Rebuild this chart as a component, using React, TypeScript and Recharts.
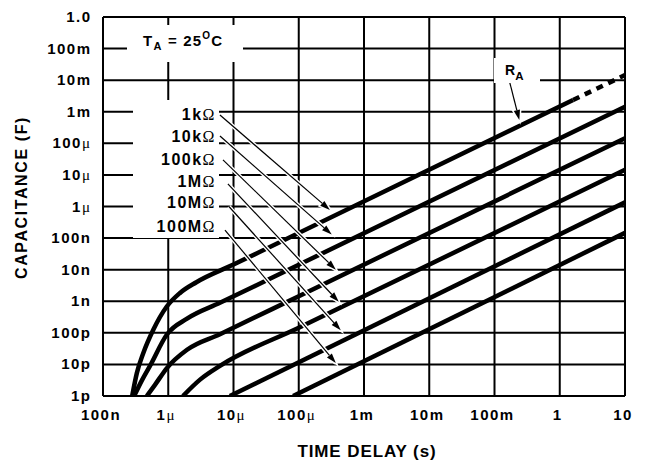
import React from 'react';
import { LineChart, Line, XAxis, YAxis, CartesianGrid, ReferenceLine } from 'recharts';

// axis ticks (log decades)
const xTicks = [1e-7, 1e-6, 1e-5, 1e-4, 1e-3, 1e-2, 1e-1, 1, 10];
const xTickLabels = ['100n', '1\u03bc', '10\u03bc', '100\u03bc', '1m', '10m', '100m', '1', '10'];
const yTicks = [1e-12, 1e-11, 1e-10, 1e-9, 1e-8, 1e-7, 1e-6, 1e-5, 1e-4, 1e-3, 1e-2, 1e-1, 1];
const yTickLabels = ['1p', '10p', '100p', '1n', '10n', '100n', '1\u03bc', '10\u03bc', '100\u03bc', '1m', '10m', '100m', '1.0'];

// time delay (s) / capacitance (F)
const t1k = [2.8e-7, 3.3e-7, 4.15e-7, 5.9e-7, 9.5e-7, 1.5e-6, 2.7e-6, 1e-5, 1.6];
const c1k = [1e-12, 5.3e-12, 2.3e-11, 1.25e-10, 6.8e-10, 1.8e-9, 4.0e-9, 1.45e-8, 2.35e-3];
const t1kDash = [1.6, 10];
const c1kDash = [2.35e-3, 1.45e-2];

const t10k = [3.0e-7, 4.0e-7, 5.25e-7, 9.6e-7, 1.94e-6, 6.2e-6, 1e-4, 10];
const c10k = [1e-12, 3.3e-12, 9.0e-12, 9.0e-11, 2.8e-10, 8.9e-10, 1.43e-8, 1.43e-3];

const t100k = [4.7e-7, 6.3e-7, 9.6e-7, 1.94e-6, 6.2e-6, 1e-4, 10];
const c100k = [1e-12, 2.3e-12, 7.8e-12, 2.9e-11, 9.0e-11, 1.45e-9, 1.45e-4];

const t1M = [1.68e-6, 3.07e-6, 6.2e-6, 1e-4, 10];
const c1M = [1e-12, 3.3e-12, 9.0e-12, 1.45e-10, 1.45e-5];

const t10M = [8.8e-6, 10];
const c10M = [1e-12, 1.35e-6];

const t100M = [8.2e-5, 10];
const c100M = [1e-12, 1.46e-7];

const resistorNames = ['1k', '10k', '100k', '1M', '10M', '100M'];

// arrows from the resistor labels to their curves
const arrowT0 = [6.2e-6, 6.2e-6, 6.9e-6, 8.2e-6, 8.5e-6, 7.4e-6];
const arrowC0 = [7.9e-4, 1.7e-4, 3.0e-5, 5.2e-6, 1.0e-6, 1.8e-7];
const arrowT1 = [3.0e-4, 3.2e-4, 3.7e-4, 4.1e-4, 4.4e-4, 3.7e-4];
const arrowC1 = [7.8e-7, 1.3e-7, 1.0e-8, 9.6e-10, 1.2e-10, 1.1e-11];
const raArrowT = [0.17, 0.24];
const raArrowC = [9.0e-3, 5.5e-4];

const toData = (ts: number[], cs: number[]) => ts.map((t, i) => ({ t, c: cs[i] }));

const lookup = (v: number, ticks: number[], labels: string[]) => {
  const i = ticks.findIndex((k) => Math.abs(Math.log10(k) - Math.log10(v)) < 0.01);
  return i >= 0 ? labels[i] : '';
};

const FONT = '"Liberation Sans", Arial, sans-serif';
const SYM = '"Liberation Serif", "Times New Roman", serif';

const withSymbols = (s: string) =>
  s.split(/([\u03bc\u03a9])/).map((p, i) =>
    p === '\u03bc' || p === '\u03a9' ? (
      <tspan key={i} fontFamily={SYM} fontWeight="normal">{p}</tspan>
    ) : (
      <tspan key={i}>{p}</tspan>
    )
  );

const XTick = (p: any) => (
  <text x={p.x - 2} y={p.y + 24} textAnchor="middle" fontFamily={FONT} fontWeight="bold"
    fontSize={15} letterSpacing={1.5} fill="#000">
    {withSymbols(lookup(p.payload.value, xTicks, xTickLabels))}
  </text>
);

const YTick = (p: any) => (
  <text x={p.x - 11.5} y={p.y + 5} textAnchor="end" fontFamily={FONT} fontWeight="bold"
    fontSize={15} letterSpacing={1.5} fill="#000">
    {withSymbols(lookup(p.payload.value, yTicks, yTickLabels))}
  </text>
);

const Arrow = (props: any) => {
  const { x1, y1, x2, y2 } = props;
  const a = Math.atan2(y2 - y1, x2 - x1);
  const len = 10;
  const half = 3.2;
  const bx = x2 - len * Math.cos(a);
  const by = y2 - len * Math.sin(a);
  const px = -Math.sin(a) * half;
  const py = Math.cos(a) * half;
  const pts = `${x2},${y2} ${bx + px},${by + py} ${bx - px},${by - py}`;
  return (
    <g>
      <line x1={x1} y1={y1} x2={x2} y2={y2} stroke="#fff" strokeWidth={4} />
      <polygon points={pts} fill="#fff" stroke="#fff" strokeWidth={3} />
      <line x1={x1} y1={y1} x2={bx} y2={by} stroke="#000" strokeWidth={1.2} />
      <polygon points={pts} fill="#000" />
    </g>
  );
};

const curves = [
  { data: toData(t1k, c1k), dash: undefined },
  { data: toData(t1kDash, c1kDash), dash: '7 6' },
  { data: toData(t10k, c10k), dash: undefined },
  { data: toData(t100k, c100k), dash: undefined },
  { data: toData(t1M, c1M), dash: undefined },
  { data: toData(t10M, c10M), dash: undefined },
  { data: toData(t100M, c100M), dash: undefined },
];

const labelBaselines = [120, 141.7, 165, 186.7, 208.3, 231.7];

export default function App() {
  return (
    <div style={{ position: 'absolute', left: 0, top: 0, width: 645, height: 463, background: '#fff' }}>
      <LineChart width={645} height={463} margin={{ top: 17, right: 20, bottom: 37, left: 8 }}>
        <CartesianGrid stroke="#000" strokeWidth={2} />
        <XAxis dataKey="t" type="number" scale="log" domain={[1e-7, 10]} allowDataOverflow
          ticks={xTicks} interval={0} tick={XTick} tickSize={0} tickMargin={0}
          axisLine={false} tickLine={false} height={30} />
        <YAxis type="number" scale="log" domain={[1e-12, 1]} allowDataOverflow
          ticks={yTicks} interval={0} tick={YTick} tickSize={0} tickMargin={0}
          axisLine={false} tickLine={false} width={95} />
        {curves.map((s, i) => (
          <Line key={i} data={s.data} dataKey="c" type={s.data.length > 2 ? 'monotone' : 'linear'}
            stroke="#000" strokeWidth={4.5} strokeDasharray={s.dash} dot={false} activeDot={false}
            isAnimationActive={false} />
        ))}
        {arrowT0.map((t, i) => (
          <ReferenceLine key={'a' + i} zIndex={600}
            segment={[{ x: t, y: arrowC0[i] }, { x: arrowT1[i], y: arrowC1[i] }]}
            shape={Arrow} />
        ))}
        <ReferenceLine zIndex={600}
          segment={[{ x: raArrowT[0], y: raArrowC[0] }, { x: raArrowT[1], y: raArrowC[1] }]}
          shape={Arrow} />
      </LineChart>
      <svg width={645} height={463} style={{ position: 'absolute', left: 0, top: 0, pointerEvents: 'none' }}>
        <rect x={127} y={25} width={116} height={37} fill="#fff" />
        <rect x={133} y={100} width={86} height={138} fill="#fff" />
        <rect x={494} y={58} width={46} height={25} fill="#fff" />
        <text x={143} y={45.5} fontFamily={FONT} fontWeight="bold" fontSize={15} letterSpacing={1.2} fill="#000">
          T<tspan dy={4.5} fontSize={11}>A</tspan>
          <tspan dy={-4.5}>{' = 25'}</tspan>
          <tspan dy={-7} fontSize={10}>O</tspan>
          <tspan dy={7}>C</tspan>
        </text>
        {resistorNames.map((n, i) => (
          <text key={n} x={216} y={labelBaselines[i]} textAnchor="end" fontFamily={FONT}
            fontWeight="bold" fontSize={16} letterSpacing={1.5} fill="#000">
            {withSymbols(n + '\u03a9')}
          </text>
        ))}
        <text x={505} y={75} fontFamily={FONT} fontWeight="bold" fontSize={14} fill="#000">
          R<tspan dy={5} fontSize={11.5}>A</tspan>
        </text>
        <text transform="translate(27,197.5) rotate(-90)" textAnchor="middle" fontFamily={FONT}
          fontWeight="bold" fontSize={16} letterSpacing={1.6} fill="#000">
          CAPACITANCE (F)
        </text>
        <text x={367} y={457} textAnchor="middle" fontFamily={FONT} fontWeight="bold" fontSize={17}
          letterSpacing={0.9} fill="#000">
          TIME DELAY (s)
        </text>
      </svg>
    </div>
  );
}
